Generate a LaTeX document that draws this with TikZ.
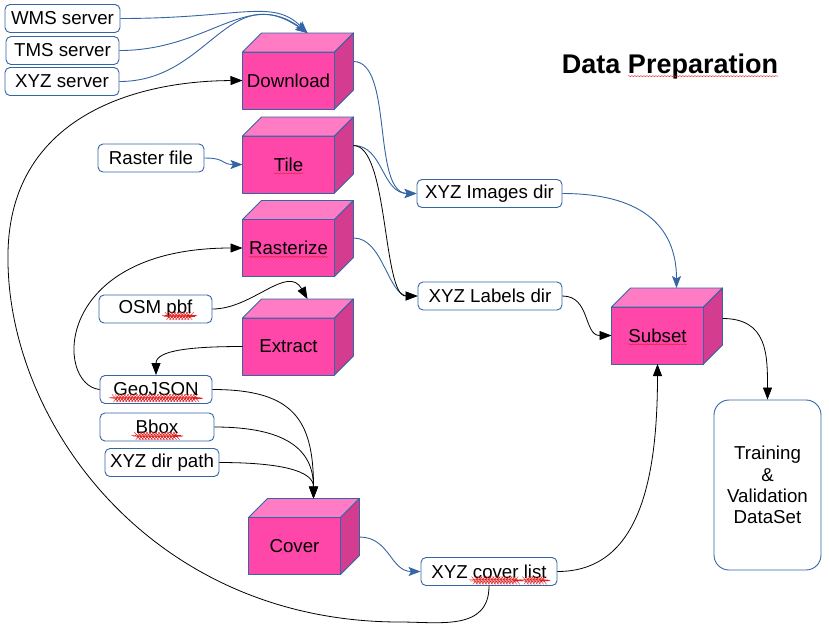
\documentclass[tikz,border=0pt]{standalone}
\usepackage{fontspec}
\setmainfont{Liberation Sans}
\usetikzlibrary{arrows.meta,decorations.pathmorphing}
\definecolor{boxblue}{HTML}{3465A4}
\definecolor{cubefront}{HTML}{FF47A9}
\definecolor{cubetop}{HTML}{FF7BC3}
\definecolor{cubeside}{HTML}{D43C90}
\definecolor{spellred}{HTML}{E02020}
\newcommand\boxfont{\fontsize{18.7}{21.3}\selectfont}
\newcommand\titlefont{\fontsize{27}{30}\selectfont\bfseries}
% sublinhado ondulado do corretor
\newcommand\sq[1]{\tikz[baseline=(sqw.base)]{\node[inner sep=0pt, outer sep=0pt,
    minimum width=0pt, minimum height=0pt, draw=none, fill=none] (sqw) {#1};
  \draw[overlay, draw=spellred, line width=0.4pt, decorate,
    decoration={snake, amplitude=0.6pt, segment length=3pt}]
    ([yshift=-2.2pt]sqw.base west) -- ([yshift=-2.2pt]sqw.base east);}}
\begin{document}
\begin{tikzpicture}[x=1pt, y=-1pt, line join=round,
  box/.style={draw=boxblue, line width=0.9pt, rounded corners=5pt, fill=white,
    inner sep=0pt, font=\boxfont},
  cube/.style={draw=boxblue, line width=0.9pt, fill=cubefront, minimum width=92pt,
    minimum height=57pt, inner sep=0pt, outer sep=0pt, font=\boxfont},
  bluelink/.style={draw=boxblue, line width=0.9pt, -{Stealth[length=12pt, width=9pt, inset=2.5pt]}},
  blacklink/.style={draw=black, line width=0.8pt, -{Triangle[length=12pt, width=9pt]}}]
  \useasboundingbox (0,0) rectangle (829,625);
  % titulo
  \node[font=\titlefont] (title) at (670,67) {Data \sq{Preparation}};
  % caixas de texto (nome, x, y, largura, texto)
  \foreach \xn/\xx/\xy/\xw/\xtxt in {
    wms/62.5/18.5/115/WMS server, tms/62.5/50.5/113/TMS server,
    xyzsrv/62/81.5/114/XYZ server, raster/151/158/106/Raster file,
    images/489.5/193.5/145/XYZ Images dir, labels/490/296/144/XYZ Labels dir,
    osm/155.5/309/113/OSM \sq{pbf}, geojson/156/389.5/112/\sq{GeoJSON},
    bbox/157/427/114/\sq{Bbox}, xyzdir/162/462.5/114/XYZ dir path,
    coverlist/489/571.5/136/XYZ \sq{cover} \sq{list}}
    \node[box, minimum width=\xw pt, minimum height=28pt] (\xn) at (\xx,\xy) {\xtxt};
  \node[box, rounded corners=15pt, minimum width=107pt, minimum height=170pt,
    align=center] (dataset) at (767.5,485) {Training\\ \&\\ Validation\\ DataSet};
  % cubos: frente, tampa e lado
  \foreach \xn/\xx/\xy/\xtxt in {
    download/288.5/80.5/Download, tile/288.5/164.5/\sq{Tile},
    rasterize/288.5/248/\sq{Rasterize}, extract/288.5/346.5/Extract,
    cover/294.5/546/Cover, subset/657.5/335.5/\sq{Subset}}
  {
    \node[cube] (\xn) at (\xx,\xy) {\xtxt};
    \filldraw[draw=boxblue, line width=0.9pt, fill=cubetop] (\xn.north west) -- ++(19,-19)
      -- ([shift={(19,-19)}]\xn.north east) -- (\xn.north east) -- cycle;
    \filldraw[draw=boxblue, line width=0.9pt, fill=cubeside] (\xn.north east) -- ++(19,-19)
      -- ([shift={(19,-19)}]\xn.south east) -- (\xn.south east) -- cycle;
  }
  % pontos de ligacao nas faces dos cubos
  \coordinate (download-in) at ([shift={(19,-19)}]download.north);
  \coordinate (download-out) at ([shift={(19,-19)}]download.east);
  \coordinate (tile-out) at ([shift={(19,-19)}]tile.east);
  \coordinate (rasterize-out) at ([shift={(19,-10)}]rasterize.east);
  \coordinate (extract-in) at ([shift={(19,-19)}]extract.north);
  \coordinate (cover-in) at ([shift={(19,-19)}]cover.north);
  \coordinate (cover-out) at ([shift={(19,-9)}]cover.east);
  \coordinate (subset-in) at ([shift={(19,-19)}]subset.north);
  \coordinate (subset-out) at ([shift={(19,-17)}]subset.east);
  % ligacoes azuis
  \draw[bluelink] (wms.east) .. controls +(120,0) and +(-35,-35) .. (download-in);
  \draw[bluelink] (tms.east) .. controls +(90,0) and +(-60,-45) .. (download-in);
  \draw[bluelink] (xyzsrv.east) .. controls +(90,0) and +(-80,-55) .. (download-in);
  \draw[bluelink] (raster.east) .. controls +(22,0) and +(-22,0) .. (tile.west);
  \draw[bluelink] (download-out) .. controls +(40,0) and +(-45,0) .. (images.west);
  \draw[bluelink] (tile-out) .. controls +(30,0) and +(-35,0) .. (images.west);
  \draw[bluelink] (rasterize-out) .. controls +(30,0) and +(-30,0) .. (labels.west);
  \draw[bluelink] (images.east) .. controls +(75,0) and +(0,-65) .. (subset-in);
  \draw[bluelink] (cover-out) .. controls +(30,0) and +(-30,0) .. (coverlist.west);
  % ligacoes pretas
  \draw[blacklink] (tile-out) .. controls +(35,0) and +(-35,0) .. (labels.west);
  \draw[blacklink] (labels.east) .. controls +(28,0) and +(-28,0) .. (subset.west);
  \draw[blacklink] (subset-out) .. controls +(45,0) and +(0,-45) .. (dataset.north);
  \draw[blacklink] (coverlist.east) .. controls +(80,0) and +(0,120) .. (subset.south);
  \draw[blacklink] (osm.east) .. controls +(40,0) and +(-20,-35) .. (extract-in);
  \draw[blacklink] (extract.west) .. controls +(-50,0) and +(0,-25) .. (geojson.north);
  \draw[blacklink] (geojson.west) .. controls +(-45,-5) and +(-190,0) .. (rasterize.west);
  \draw[blacklink] (geojson.east) .. controls +(80,0) and +(0,-80) .. (cover-in);
  \draw[blacklink] (bbox.east) .. controls +(70,0) and +(0,-50) .. (cover-in);
  \draw[blacklink] (xyzdir.east) .. controls +(60,0) and +(0,-28) .. (cover-in);
  % volta da lista de cobertura ao download
  \draw[blacklink] (coverlist.south) .. controls +(0,45) and +(40,0) .. (400,622)
    .. controls (150,622) and (5,420) .. (8,253)
    .. controls (10,120) and (130,81) .. (download.west);
\end{tikzpicture}
\end{document}
